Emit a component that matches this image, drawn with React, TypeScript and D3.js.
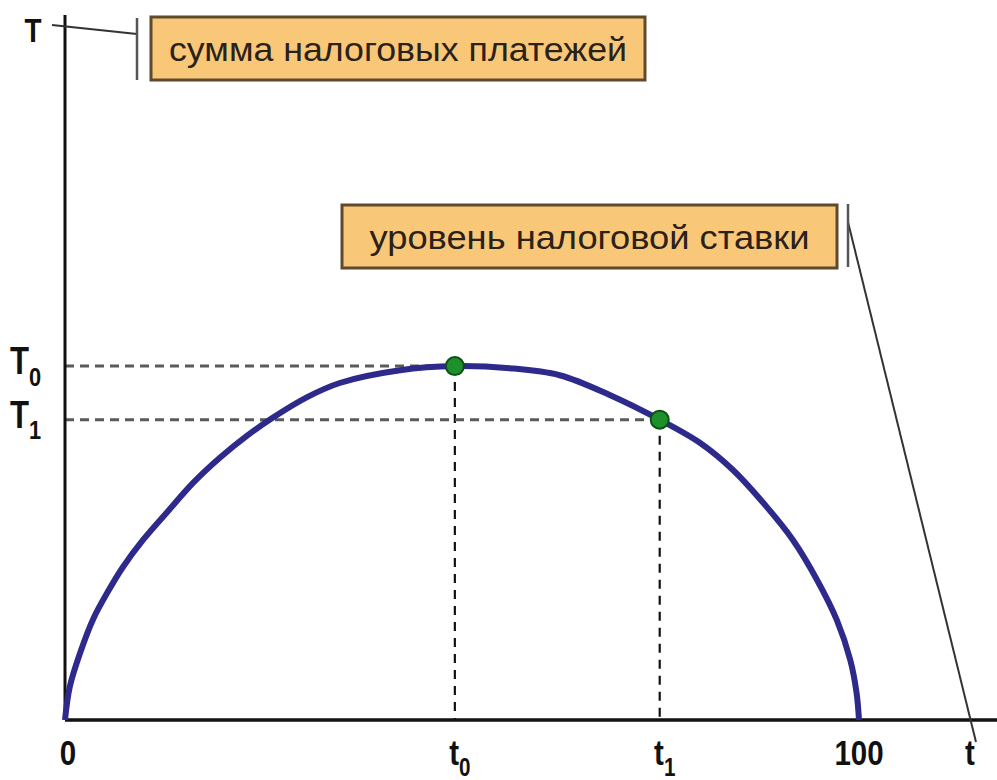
import React from "react";
import * as d3 from "d3";

// ставка налога (t, %) и сумма налоговых платежей (T)
const rate = [0, 0.6, 1.9, 3.5, 5.3, 7.3, 9.8, 12.8, 16.1, 19.5, 22.9, 26.2, 30.5, 34.6, 42.2, 49.1, 56.0, 62.3, 68.6, 74.9, 80.0, 84.1, 88.4, 91.7, 94.7, 97.2, 98.9, 99.7, 100];
const revenue = [0, 4.7, 9.5, 14.2, 18.0, 21.7, 25.5, 29.4, 33.6, 37.2, 40.3, 42.9, 45.8, 47.8, 49.6, 50.2, 49.9, 48.9, 46.1, 42.6, 39.3, 35.5, 30.2, 25.5, 19.9, 14.2, 8.5, 3.8, 0];

const markRate = [49.1, 74.9];
const markRevenue = [50.2, 42.6];
const markSub = ["0", "1"];

const xTicks = [0, 100];
const xMax = 117.4;
const yMax = 100;

const W = 997;
const H = 780;

function Label(props: { x: number; y: number; text: string; sub?: string; size: number; anchor?: string; squeeze?: number }) {
  const { x, y, text, sub, size, anchor = "middle", squeeze = 0.82 } = props;
  return (
    <g transform={`translate(${x},${y}) scale(${squeeze},1)`}>
      <text
        textAnchor={anchor}
        fontFamily="'Liberation Sans', Arial, sans-serif"
        fontWeight="bold"
        fontSize={size}
        fill="#111"
      >
        {text}
        {sub && (
          <tspan fontSize={size * 0.7} dy={size * 0.3}>
            {sub}
          </tspan>
        )}
      </text>
    </g>
  );
}

function Note(props: { x: number; y: number; w: number; h: number; text: string; textW: number }) {
  const { x, y, w, h, text, textW } = props;
  return (
    <g>
      <rect x={x} y={y} width={w} height={h} fill="#f9c778" stroke="#5e4a2c" strokeWidth={3} />
      <text
        x={x + w / 2 - textW / 2}
        y={y + h / 2 + 12}
        fontFamily="'Liberation Sans', Arial, sans-serif"
        fontSize={34}
        fill="#2a2118"
        textLength={textW}
        lengthAdjust="spacingAndGlyphs"
      >
        {text}
      </text>
    </g>
  );
}

export default function App() {
  const x = d3.scaleLinear().domain([0, 100]).range([65, 859]);
  const y = d3.scaleLinear().domain([0, yMax]).range([720, 15]);

  const line = d3
    .line<number>()
    .x((_, i) => x(rate[i]))
    .y((d) => y(d))
    .curve(d3.curveCatmullRom.alpha(0.5));

  return (
    <svg width={W} height={H} style={{ position: "absolute", left: 0, top: 0, background: "#fff" }}>
      {/* пунктир к точкам */}
      {markRate.map((r, i) => (
        <g key={"g" + i}>
          <line x1={x(0)} x2={x(r)} y1={y(markRevenue[i])} y2={y(markRevenue[i])} stroke="#5a5a5a" strokeWidth={3} strokeDasharray="9 6" />
          <line x1={x(r)} x2={x(r)} y1={y(markRevenue[i])} y2={y(0)} stroke="#111" strokeWidth={2.2} strokeDasharray="9 7" />
        </g>
      ))}

      {/* оси */}
      <line x1={x(0)} x2={x(0)} y1={y(0)} y2={y(yMax)} stroke="#111" strokeWidth={3} />
      <line x1={x(0)} x2={x(xMax)} y1={y(0)} y2={y(0)} stroke="#111" strokeWidth={3.5} />

      {/* кривая Лаффера */}
      <path d={line(revenue) || ""} fill="none" stroke="#2d2a8c" strokeWidth={6} />

      {markRate.map((r, i) => (
        <circle key={"c" + i} cx={x(r)} cy={y(markRevenue[i])} r={9} fill="#1f8f2c" stroke="#0d5214" strokeWidth={2} />
      ))}

      {/* подписи осей */}
      <Label x={33} y={42} text="T" size={34} />
      {markRevenue.map((v, i) => (
        <Label key={"T" + i} x={10} y={y(v) + 8} text="T" sub={markSub[i]} size={38} anchor="start" />
      ))}
      {xTicks.map((v) => (
        <Label key={"x" + v} x={x(v) + (v === 0 ? 3 : 0)} y={765} text={String(v)} size={36} />
      ))}
      {markRate.map((r, i) => (
        <Label key={"t" + i} x={x(r) + 5} y={765} text="t" sub={markSub[i]} size={36} />
      ))}
      <Label x={970} y={765} text="t" size={36} />

      {/* выноски */}
      <line x1={52} y1={25} x2={137} y2={34} stroke="#333" strokeWidth={2} />
      <line x1={137} y1={18} x2={137} y2={80} stroke="#555" strokeWidth={2.5} />
      <Note x={151} y={17} w={494} h={63} text="сумма налоговых платежей" textW={458} />

      <line x1={848} y1={222} x2={976} y2={742} stroke="#333" strokeWidth={2} />
      <line x1={848} y1={204} x2={848} y2={267} stroke="#555" strokeWidth={2.5} />
      <Note x={342} y={205} w={495} h={63} text="уровень налоговой ставки" textW={440} />
    </svg>
  );
}
